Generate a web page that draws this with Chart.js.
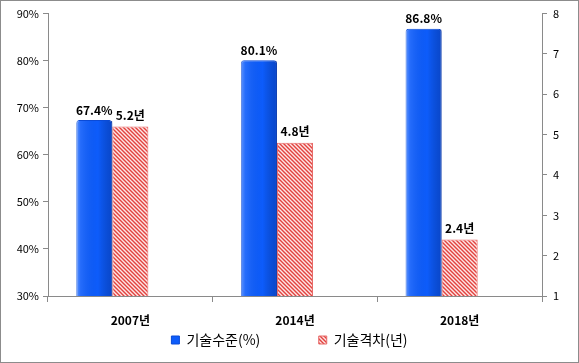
<!DOCTYPE html>
<html>
<head>
<meta charset="utf-8">
<script src="https://cdn.jsdelivr.net/npm/chart.js@4/dist/chart.umd.min.js"></script>
<style>
html, body { margin: 0; padding: 0; background: #fff; }
#wrap { width: 577px; height: 361px; border: 1px solid #8c8c8c; }
</style>
</head>
<body>
<div id="wrap"><canvas id="techChart" width="577" height="361"></canvas></div>
<script>
// values
var years = ['2007년', '2014년', '2018년'];
var levelPct = [67.4, 80.1, 86.8];   // 기술수준(%)
var gapYears = [5.2, 4.8, 2.4];      // 기술격차(년)
var emptySlot = [null, null, null];  // the original leaves a third, empty slot in each group
var leftTicks = [30, 40, 50, 60, 70, 80, 90];
var rightTicks = [1, 2, 3, 4, 5, 6, 7, 8];

var FONT = '"Noto Sans CJK KR", "Noto Sans", sans-serif';
var AXIS = '#8a8a8a';

// red diagonal hatch
function makeHatch() {
    var c = document.createElement('canvas');
    c.width = 4; c.height = 4;
    var g = c.getContext('2d');
    g.fillStyle = '#fde6e6';
    g.fillRect(0, 0, 4, 4);
    g.strokeStyle = '#e2423e';
    g.lineWidth = 1.4;
    g.beginPath();
    g.moveTo(-1, -1); g.lineTo(5, 5);
    g.moveTo(-1, 3); g.lineTo(1, 5);
    g.moveTo(3, -1); g.lineTo(5, 1);
    g.stroke();
    return g.createPattern(c, 'repeat');
}
var hatch = makeHatch();

// shading on the blue bars, drawn from the bar elements
var barShade = {
    id: 'barShade',
    afterDatasetDraw: function (chart, args) {
        if (args.index !== 0) return;
        var ctx = chart.ctx;
        var bottom = chart.chartArea.bottom;
        args.meta.data.forEach(function (el) {
            var l = el.x - el.width / 2, r = el.x + el.width / 2;
            var gr = ctx.createLinearGradient(l, 0, r, 0);
            gr.addColorStop(0, 'rgba(255,255,255,0.35)');
            gr.addColorStop(0.12, 'rgba(255,255,255,0.1)');
            gr.addColorStop(0.6, 'rgba(0,0,0,0)');
            gr.addColorStop(1, 'rgba(0,20,90,0.3)');
            ctx.save();
            ctx.fillStyle = gr;
            ctx.fillRect(l, el.y + 1, el.width, bottom - el.y - 1);
            ctx.restore();
        });
    }
};

// value labels above the bars
var valueLabels = {
    id: 'valueLabels',
    afterDatasetsDraw: function (chart) {
        var ctx = chart.ctx;
        ctx.save();
        ctx.font = 'bold 12px ' + FONT;
        ctx.fillStyle = '#000';
        ctx.textAlign = 'center';
        ctx.textBaseline = 'bottom';
        chart.getDatasetMeta(0).data.forEach(function (el, i) {
            ctx.fillText(levelPct[i].toFixed(1) + '%', el.x, el.y - 4);
        });
        chart.getDatasetMeta(1).data.forEach(function (el, i) {
            ctx.fillText(gapYears[i].toFixed(1) + '년', el.x, el.y - 5);
        });
        ctx.restore();
    }
};

var ctx = document.getElementById('techChart').getContext('2d');
var techChart = new Chart(ctx, {
    type: 'bar',
    data: {
        labels: years,
        datasets: [{
            label: '기술수준(%)',
            data: levelPct,
            yAxisID: 'y',
            backgroundColor: '#0d5cfb',
            borderColor: '#0a4ad6',
            borderWidth: 1,
            borderRadius: { topLeft: 3, topRight: 3 },
            borderSkipped: 'bottom',
            categoryPercentage: 0.657,
            barPercentage: 1.0
        }, {
            label: '기술격차(년)',
            data: gapYears,
            yAxisID: 'y1',
            backgroundColor: hatch,
            borderColor: '#e86a68',
            borderWidth: 1,
            borderSkipped: 'bottom',
            categoryPercentage: 0.657,
            barPercentage: 1.0
        }, {
            label: '',
            data: emptySlot,
            yAxisID: 'y1',
            backgroundColor: 'rgba(0,0,0,0)',
            categoryPercentage: 0.657,
            barPercentage: 1.0
        }]
    },
    options: {
        responsive: false,
        animation: false,
        layout: { padding: { top: 2, left: 0, right: 0, bottom: 5 } },
        plugins: {
            tooltip: { enabled: false },
            legend: {
                position: 'bottom',
                labels: {
                    font: { family: FONT, size: 14 },
                    color: '#000',
                    boxWidth: 8,
                    boxHeight: 8,
                    padding: 2,
                    generateLabels: function () {
                        return [
                            { text: '기술수준(%)                  ', fillStyle: '#0d5cfb', strokeStyle: '#0a4ad6', lineWidth: 1, datasetIndex: 0 },
                            { text: '기술격차(년)', fillStyle: hatch, strokeStyle: '#e86a68', lineWidth: 1, datasetIndex: 1 }
                        ];
                    }
                }
            }
        },
        scales: {
            x: {
                afterFit: function (s) { s.height = 35; },
                grid: { display: true, drawOnChartArea: false, drawTicks: true, tickLength: 6, color: AXIS, offset: true },
                border: { display: true, color: AXIS },
                ticks: { font: { family: FONT, size: 12, weight: 'bold' }, color: '#000', padding: 11 }
            },
            y: {
                position: 'left',
                min: 30, max: 90,
                afterBuildTicks: function (s) { s.ticks = leftTicks.map(function (v) { return { value: v }; }); },
                afterFit: function (s) { s.width = 47; },
                grid: { display: true, drawOnChartArea: false, drawTicks: true, tickLength: 5, color: AXIS },
                border: { display: true, color: AXIS },
                ticks: {
                    font: { family: FONT, size: 11 }, color: '#000', padding: 4,
                    callback: function (v) { return v + '%'; }
                }
            },
            y1: {
                position: 'right',
                min: 1, max: 8,
                afterBuildTicks: function (s) { s.ticks = rightTicks.map(function (v) { return { value: v }; }); },
                afterFit: function (s) { s.width = 36; },
                grid: { display: true, drawOnChartArea: false, drawTicks: true, tickLength: 5, color: AXIS },
                border: { display: true, color: AXIS },
                ticks: { font: { family: FONT, size: 11 }, color: '#000', padding: 6 }
            }
        }
    },
    plugins: [barShade, valueLabels]
});
</script>
</body>
</html>
